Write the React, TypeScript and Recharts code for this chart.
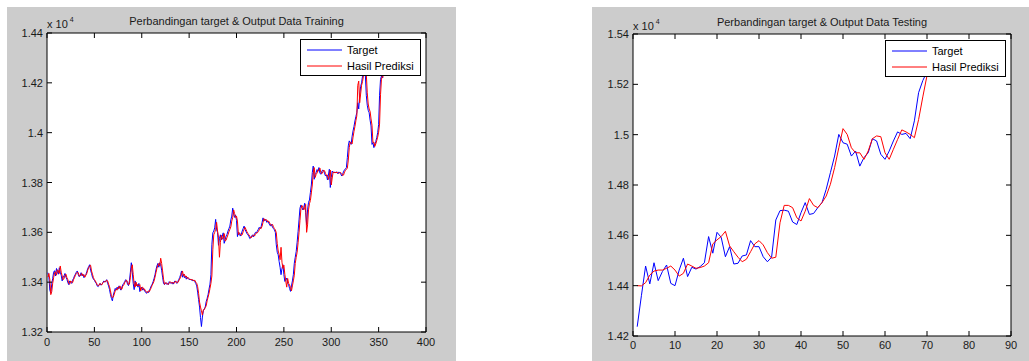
import React from 'react';
import { LineChart, Line, XAxis, YAxis, ReferenceArea, Legend } from 'recharts';

// training set: target vs network output (values in rupiah, axis shown x 10^4)
const trainTarget = [
  13438, 13420, 13368, 13356, 13392, 13415, 13440, 13446, 13425, 13455,
  13440, 13432, 13458, 13440, 13428, 13405, 13418, 13426, 13435, 13420,
  13412, 13398, 13390, 13405, 13400, 13395, 13408, 13415, 13425, 13432,
  13440, 13445, 13430, 13422, 13428, 13438, 13425, 13432, 13418, 13425,
  13430, 13442, 13455, 13462, 13470, 13448, 13435, 13420, 13412, 13408,
  13400, 13395, 13385, 13382, 13390, 13395, 13388, 13392, 13398, 13405,
  13400, 13405, 13410, 13395, 13385, 13370, 13350, 13335, 13325, 13348,
  13362, 13375, 13368, 13380, 13372, 13385, 13375, 13368, 13380, 13390,
  13395, 13402, 13410, 13405, 13392, 13386, 13405, 13440, 13478, 13440,
  13395, 13370, 13405, 13385, 13392, 13380, 13395, 13362, 13375, 13380,
  13368, 13375, 13365, 13360, 13355, 13362, 13358, 13365, 13375, 13385,
  13392, 13402, 13415, 13430, 13450, 13465, 13475, 13460, 13478, 13470,
  13448, 13420, 13395, 13390, 13398, 13392, 13395, 13390, 13402, 13398,
  13395, 13400, 13392, 13398, 13405, 13400, 13395, 13402, 13410, 13418,
  13430, 13445, 13420, 13432, 13418, 13425, 13412, 13420, 13415, 13410,
  13412, 13408, 13410, 13405, 13408, 13402, 13395, 13385, 13360, 13330,
  13300, 13258, 13222, 13260, 13285, 13292, 13300, 13322, 13335, 13350,
  13372, 13392, 13430, 13550, 13598, 13605, 13618, 13652, 13610, 13600,
  13548, 13575, 13590, 13570, 13585, 13598, 13556, 13570, 13585, 13592,
  13605, 13615, 13625, 13650, 13665, 13697, 13672, 13660, 13670, 13648,
  13583, 13600, 13596, 13585, 13592, 13605, 13615, 13625, 13612, 13603,
  13595, 13590, 13585, 13575, 13578, 13585, 13590, 13582, 13592, 13600,
  13598, 13605, 13612, 13620, 13615, 13623, 13640, 13658, 13645, 13652,
  13650, 13640, 13645, 13638, 13630, 13625, 13632, 13620, 13615, 13610,
  13600, 13550, 13520, 13510, 13483, 13460, 13430, 13455, 13470, 13430,
  13403, 13410, 13416, 13395, 13390, 13375, 13363, 13385, 13405, 13430,
  13476, 13500, 13523, 13560, 13603, 13650, 13697, 13710, 13700, 13690,
  13700, 13717, 13680, 13630, 13690, 13720, 13730, 13760, 13790, 13840,
  13866, 13813, 13835, 13840, 13852, 13845, 13860, 13838, 13833, 13845,
  13850, 13848, 13835, 13826, 13830, 13810, 13830, 13853, 13780, 13820,
  13846, 13840, 13842, 13838, 13843, 13840, 13835, 13842, 13840, 13835,
  13826, 13832, 13845, 13850, 13855, 13860, 13900, 13947, 13967, 13960,
  13953, 13985, 14007, 14025, 14047, 14065, 14080, 14120, 14095, 14150,
  14185, 14200, 14227, 14240, 14260, 14230, 14150, 14110, 14090, 14080,
  14050, 14027, 13953, 13960, 13940, 13953, 13965, 13980, 14000, 14033,
  14150, 14214, 14227, 14220, 14240,
];

const trainPred = [
  13420, 13435, 13410, 13350, 13362, 13395, 13418, 13438, 13442, 13428,
  13450, 13445, 13435, 13465, 13440, 13425, 13410, 13415, 13428, 13432,
  13418, 13410, 13395, 13392, 13405, 13400, 13398, 13410, 13418, 13428,
  13435, 13440, 13438, 13425, 13425, 13432, 13435, 13425, 13430, 13420,
  13428, 13435, 13448, 13458, 13465, 13468, 13445, 13432, 13418, 13410,
  13405, 13398, 13390, 13385, 13388, 13395, 13390, 13390, 13398, 13402,
  13402, 13402, 13408, 13405, 13392, 13382, 13365, 13345, 13338, 13340,
  13352, 13365, 13372, 13368, 13380, 13375, 13385, 13372, 13372, 13385,
  13388, 13398, 13405, 13408, 13400, 13390, 13392, 13420, 13455, 13470,
  13430, 13392, 13380, 13400, 13385, 13390, 13385, 13390, 13365, 13378,
  13380, 13370, 13372, 13365, 13360, 13358, 13365, 13362, 13370, 13378,
  13388, 13395, 13405, 13420, 13438, 13455, 13468, 13475, 13465, 13496,
  13475, 13445, 13412, 13392, 13395, 13398, 13392, 13392, 13395, 13402,
  13398, 13395, 13400, 13395, 13400, 13405, 13398, 13398, 13405, 13412,
  13420, 13432, 13445, 13425, 13432, 13420, 13425, 13415, 13418, 13415,
  13410, 13412, 13408, 13410, 13405, 13408, 13400, 13395, 13382, 13355,
  13320, 13300, 13285, 13268, 13289, 13290, 13298, 13305, 13325, 13340,
  13355, 13375, 13395, 13425, 13530, 13590, 13600, 13612, 13640, 13605,
  13580, 13500, 13560, 13588, 13572, 13580, 13595, 13565, 13568, 13580,
  13590, 13602, 13612, 13622, 13645, 13660, 13690, 13675, 13660, 13665,
  13645, 13590, 13598, 13595, 13588, 13590, 13602, 13612, 13620, 13612,
  13602, 13596, 13590, 13585, 13578, 13580, 13585, 13590, 13585, 13592,
  13598, 13598, 13603, 13610, 13618, 13615, 13625, 13640, 13655, 13648,
  13650, 13650, 13642, 13645, 13638, 13630, 13628, 13632, 13622, 13615,
  13610, 13598, 13555, 13525, 13512, 13490, 13540, 13480, 13455, 13468,
  13432, 13405, 13380, 13415, 13395, 13390, 13378, 13365, 13385, 13405,
  13428, 13475, 13500, 13520, 13558, 13600, 13648, 13695, 13708, 13700,
  13690, 13700, 13712, 13600, 13630, 13690, 13715, 13728, 13758, 13790,
  13838, 13860, 13820, 13832, 13838, 13850, 13848, 13858, 13840, 13835,
  13842, 13850, 13846, 13836, 13828, 13830, 13812, 13828, 13850, 13790,
  13818, 13842, 13840, 13842, 13838, 13842, 13840, 13836, 13840, 13840,
  13836, 13828, 13830, 13842, 13848, 13853, 13858, 13890, 13940, 13962,
  13960, 13955, 13982, 14005, 14025, 14048, 14068, 14190, 14207, 14120,
  14155, 14190, 14205, 14228, 14245, 14262, 14235, 14160, 14115, 14095,
  14085, 14055, 14030, 13960, 13962, 13945, 13955, 13968, 13982, 14002,
  14035, 14152, 14215, 14228, 14222,
];

// testing set
const testTarget = [
  14237, 14360, 14478, 14407, 14491, 14420, 14456, 14482, 14409, 14400,
  14462, 14509, 14436, 14473, 14466, 14476, 14491, 14595, 14529, 14612,
  14592, 14515, 14555, 14486, 14489, 14518, 14522, 14579, 14555, 14555,
  14515, 14495, 14513, 14661, 14698, 14700, 14696, 14653, 14643, 14690,
  14730, 14683, 14687, 14710, 14730, 14783, 14849, 14915, 15001, 14968,
  14962, 14915, 14935, 14875, 14909, 14928, 14984, 14975, 14922, 14902,
  14935, 14975, 15011, 15001, 15005, 14984, 15055, 15167, 15215, 15250,
];

const testPred = [
  14400, 14399, 14412, 14442, 14458, 14462, 14462, 14469, 14478, 14462,
  14438, 14449, 14486, 14478, 14469, 14472, 14478, 14491, 14566, 14582,
  14595, 14616, 14558, 14535, 14513, 14495, 14505, 14535, 14566, 14579,
  14562, 14531, 14509, 14513, 14650, 14719, 14719, 14710, 14670, 14657,
  14696, 14746, 14719, 14710, 14730, 14756, 14803, 14869, 14948, 15024,
  15001, 14948, 14928, 14928, 14902, 14935, 14984, 14995, 14992, 14928,
  14902, 14942, 14981, 15019, 15011, 15001, 14988, 15060, 15150, 15235,
];

const trainXTicks = [0, 50, 100, 150, 200, 250, 300, 350, 400];
const trainYTicks = [13200, 13400, 13600, 13800, 14000, 14200, 14400];
const testXTicks = [0, 10, 20, 30, 40, 50, 60, 70, 80, 90];
const testYTicks = [14200, 14400, 14600, 14800, 15000, 15200, 15400];
const legendOrder = ['target', 'pred'];

const FONT = '"Liberation Sans", Arial, sans-serif';
const INK = '#1a1a1a';

const toRows = (target: number[], pred: number[]) =>
  target.map((t, i) => ({ x: i + 1, target: t, pred: pred[i] }));

type Box = { left: number; right: number; top: number; bottom: number };

function MatlabLegend({ payload }: any) {
  const items = [...(payload || [])].sort(
    (a: any, b: any) => legendOrder.indexOf(a.dataKey) - legendOrder.indexOf(b.dataKey)
  );
  return (
    <div
      style={{
        boxSizing: 'border-box',
        width: 121,
        height: 37,
        border: '1px solid #000',
        background: '#fff',
        fontFamily: FONT,
        fontSize: 11,
        color: '#000',
        paddingTop: 2,
      }}
    >
      {items.map((p: any) => (
        <div key={p.value} style={{ display: 'flex', alignItems: 'center', height: 16 }}>
          <svg width={40} height={10} style={{ marginLeft: 5 }}>
            <line x1={1} x2={36} y1={5} y2={5} stroke={p.color} strokeWidth={1} />
          </svg>
          <span style={{ marginLeft: 1, lineHeight: '16px' }}>{p.value}</span>
        </div>
      ))}
    </div>
  );
}

interface PanelProps {
  title: string;
  data: { x: number; target: number; pred: number }[];
  xDomain: [number, number];
  xTicks: number[];
  yDomain: [number, number];
  yTicks: number[];
  left: number;
  width: number;
  box: Box;
  labelGap: number;
  expTop: number;
}

function Panel({ title, data, xDomain, xTicks, yDomain, yTicks, left, width, box, labelGap, expTop }: PanelProps) {
  const height = 354;
  const yAxisW = 30;
  const xAxisH = 20;

  const renderYTick = (props: any) => {
    const { y, payload } = props;
    return (
      <g>
        <line x1={box.left} x2={box.left + 5} y1={y} y2={y} stroke="#000" />
        <line x1={box.right - 5} x2={box.right} y1={y} y2={y} stroke="#000" />
        <text x={box.left - 4} y={y + 4} textAnchor="end" fill={INK} style={{ fontFamily: FONT, fontSize: 11 }}>
          {String(payload.value / 10000)}
        </text>
      </g>
    );
  };

  const renderXTick = (props: any) => {
    const { x, payload } = props;
    return (
      <g>
        <line x1={x} x2={x} y1={box.bottom - 5} y2={box.bottom} stroke="#000" />
        <line x1={x} x2={x} y1={box.top} y2={box.top + 5} stroke="#000" />
        <text x={x} y={box.bottom + labelGap} textAnchor="middle" fill={INK} style={{ fontFamily: FONT, fontSize: 11 }}>
          {payload.value}
        </text>
      </g>
    );
  };

  return (
    <div style={{ position: 'absolute', left, top: 7, width, height, background: '#cccccc' }}>
      <div
        style={{
          position: 'absolute',
          left: box.left,
          width: box.right - box.left,
          top: box.top - 18,
          textAlign: 'center',
          fontFamily: FONT,
          fontSize: 11,
          color: INK,
          whiteSpace: 'nowrap',
        }}
      >
        {title}
      </div>
      <div style={{ position: 'absolute', left: box.left, top: expTop, fontFamily: FONT, fontSize: 11, color: INK }}>
        x 10<span style={{ fontSize: 7, position: 'relative', top: -6, marginLeft: 2 }}>4</span>
      </div>
      <LineChart
        width={width}
        height={height}
        data={data}
        margin={{ top: box.top, right: width - box.right, left: box.left - yAxisW, bottom: height - box.bottom - xAxisH }}
      >
        <XAxis
          dataKey="x"
          type="number"
          domain={xDomain}
          ticks={xTicks}
          interval={0}
          height={xAxisH}
          axisLine={false}
          tickLine={false}
          tick={renderXTick}
        />
        <YAxis
          type="number"
          domain={yDomain}
          ticks={yTicks}
          interval={0}
          width={yAxisW}
          axisLine={false}
          tickLine={false}
          tick={renderYTick}
        />
        <ReferenceArea x1={xDomain[0]} x2={xDomain[1]} y1={yDomain[0]} y2={yDomain[1]} fill="#fff" fillOpacity={1} stroke="#000" strokeWidth={1} />
        <Line type="linear" dataKey="target" name="Target" stroke="#0000ff" strokeWidth={1} dot={false} isAnimationActive={false} />
        <Line type="linear" dataKey="pred" name="Hasil Prediksi" stroke="#ff0000" strokeWidth={1} dot={false} isAnimationActive={false} />
        <Legend
          layout="horizontal"
          verticalAlign="middle"
          align="center"
          content={<MatlabLegend />}
          wrapperStyle={{ left: box.right - 126, top: box.top + 6, width: 121, height: 37 }}
        />
      </LineChart>
    </div>
  );
}

export default function App() {
  return (
    <div style={{ position: 'absolute', left: 0, top: 0, width: 1029, height: 361, background: '#fff', overflow: 'hidden' }}>
      <Panel
        title="Perbandingan target & Output Data Training"
        data={toRows(trainTarget, trainPred)}
        xDomain={[0, 400]}
        xTicks={trainXTicks}
        yDomain={[13200, 14400]}
        yTicks={trainYTicks}
        left={7}
        width={449}
        box={{ left: 40, right: 419, top: 26, bottom: 325 }}
        labelGap={14}
        expTop={11}
      />
      <Panel
        title="Perbandingan target & Output Data Testing"
        data={toRows(testTarget, testPred)}
        xDomain={[0, 90]}
        xTicks={testXTicks}
        yDomain={[14200, 15400]}
        yTicks={testYTicks}
        left={592}
        width={437}
        box={{ left: 41, right: 419, top: 27, bottom: 329 }}
        labelGap={13}
        expTop={13}
      />
    </div>
  );
}
